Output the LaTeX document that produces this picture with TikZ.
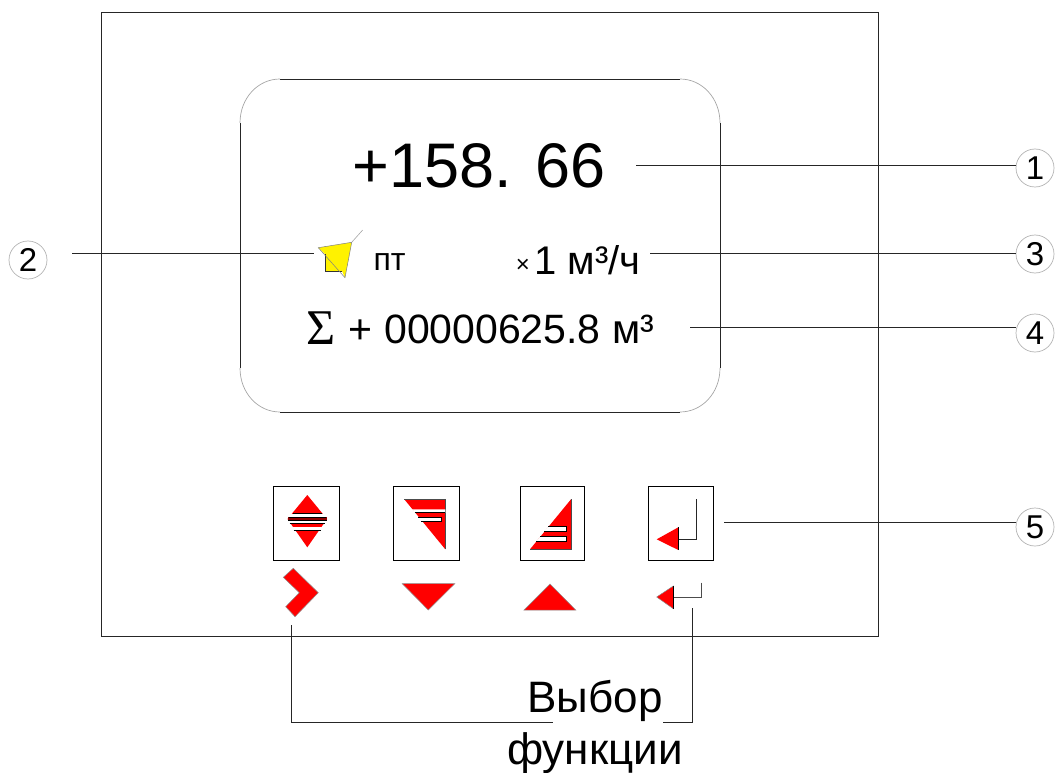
\documentclass[tikz,border=0pt]{standalone}
\usepackage{fontspec}
\setmainfont{Liberation Sans}
\newfontfamily\serifsym{Liberation Serif}
\newcommand{\fs}[1]{\fontsize{#1}{#1}\selectfont}
\tikzset{
  x=1pt,y=-1pt,
  frame/.style={draw=black!85,line width=0.9pt},
  leader/.style={draw=black!85,line width=0.9pt},
  lightarc/.style={draw=black!35,line width=0.7pt},
  keybox/.style={draw=black,line width=0.9pt,fill=white},
  redfill/.style={fill=red,draw=black!45,line width=0.5pt},
  notch/.style={fill=white,draw=black,line width=0.8pt},
  numcirc/.style={circle,draw=black!30,line width=0.7pt,minimum size=38pt,inner sep=0pt,font=\fs{33}},
  txt/.style={inner sep=0pt,anchor=base},
}
\begin{document}
\begin{tikzpicture}
\useasboundingbox (0,0) rectangle (1055,773);
\draw[frame] (101,12) rectangle (878,636);
% display
\draw[frame] (280,79) -- (680,79) (720,123) -- (720,368) (680,412) -- (280,412) (240,368) -- (240,123);
\draw[lightarc] (240,123) .. controls (240,98) and (258,79) .. (280,79);
\draw[lightarc] (680,79) .. controls (702,79) and (720,98) .. (720,123);
\draw[lightarc] (720,368) .. controls (720,393) and (702,412) .. (680,412);
\draw[lightarc] (280,412) .. controls (258,412) and (240,393) .. (240,368);
% texts
\node[txt] (val) at (479,187) {\fs{63}+158. 66};
\node[txt] (pt) at (389.5,270) {\fs{32}пт};
\node[txt] (unit) at (587.5,274) {\fs{40}1 м³/ч};
\node[txt] (times) at (523,272) {\fs{24}×};
\node[txt] (total) at (501.5,343) {\fs{41}+ 00000625.8 м³};
\node[txt] (sigma) at (321,344) {\fs{50}\serifsym Σ};
% numbers
\node[numcirc] (n1) at (1035,168) {1};
\node[numcirc] (n2) at (28,260) {2};
\node[numcirc] (n3) at (1035,254) {3};
\node[numcirc] (n4) at (1035,333) {4};
\node[numcirc] (n5) at (1035,527) {5};
% speaker
\fill[yellow] (318.3,247.7) -- (351.7,242.3) -- (345,277.7) -- (342,271) -- (325,271) -- (325,254) -- cycle;
\draw[black!80,line width=0.8pt] (325,254) -- (325,271) -- (342,271);
\draw[black!50,line width=0.5pt] (318.3,247.7) -- (351.7,242.3) -- (345,277.7) -- cycle;
\draw[black!35,line width=0.6pt] (351.7,242.3) -- (362.7,230);
\coordinate (spk) at (314,253);
% leaders
\coordinate (a1) at (636,165);
\coordinate (a3) at (650,253);
\coordinate (a4) at (690,327);
\coordinate (a2) at (72,253);
\draw[leader] (a1) -- (a1 -| n1.west);
\draw[leader] (a3) -- (a3 -| n3.west);
\draw[leader] (a4) -- (a4 -| n4.west);
\draw[leader] (a2) -- (spk);
% key boxes
\node[keybox,minimum width=66pt,minimum height=74pt,inner sep=0pt] (k1) at (306,523) {};
\node[keybox,minimum width=66pt,minimum height=74pt,inner sep=0pt] (k2) at (426,523) {};
\node[keybox,minimum width=64pt,minimum height=74pt,inner sep=0pt] (k3) at (552,523) {};
\node[keybox,minimum width=65pt,minimum height=74pt,inner sep=0pt] (k4) at (680.5,523) {};
\coordinate (a5) at (724,522);
\draw[leader] (a5) -- (a5 -| n5.west);
% icon 1
\fill[red] (307.3,495) -- (327,519) -- (307.3,547.3) -- (287.5,519) -- cycle;
\fill[white] (288,513.6) rectangle (327,516.9);
\fill[red!55!black] (287.5,516.9) rectangle (327,520.5);
\fill[white] (287.5,520.5) rectangle (327,523.3);
\fill[white] (288,527) rectangle (327,530.6);
\draw[black,line width=0.8pt] (292.5,513.5) -- (322,513.5) (288.5,516.9) -- (326,516.9) (288,520.5) -- (326.5,520.5) (289.5,523.4) -- (325,523.4) (293.5,530.8) -- (321,530.8);
% icon 2
\fill[red] (404.3,499.3) -- (445.3,499.3) -- (445.3,549.3) -- cycle;
\draw[black!70,line width=0.6pt] (404.3,499.3) -- (445.3,499.3) -- (445.3,549.3);
\fill[white] (412,509.3) -- (445.3,509.3) -- (445.3,512.7) -- (415,512.7) -- cycle;
\draw[black,line width=0.8pt] (415,512.7) -- (445.3,512.7);
\draw[black,line width=0.7pt,fill=white] (418,517.7) -- (441,517.7) -- (441,521) -- (420.5,521);
% icon 3
\fill[red] (571,499.3) -- (571,549.3) -- (530,549.3) -- cycle;
\draw[black!70,line width=0.6pt] (571,499.3) -- (571,549.3) -- (530,549.3);
\draw[notch] (548,526.7) -- (566.7,526.7) -- (566.7,531.7) -- (544,531.7);
\draw[notch] (540,536.7) -- (566.7,536.7) -- (566.7,541.7) -- (536,541.7);
% icon 4
\draw[black!85,line width=0.9pt] (696.7,499.3) -- (696.7,539.3) -- (678.3,539.3);
\fill[red] (656.7,539.3) -- (678.3,527.3) -- (678.3,550) -- cycle;
\draw[black,line width=0.9pt] (678.3,527.3) -- (678.3,550);
% lower icons
\filldraw[redfill] (293.3,568.3) -- (318.3,592.7) -- (295,616.7) -- (285.7,606.7) -- (299.3,592.7) -- (283.3,577.3) -- cycle;
\filldraw[redfill] (402.3,583.7) -- (454.7,583.7) -- (428.3,610) -- cycle;
\filldraw[redfill] (550,584) -- (524,610) -- (575.7,610) -- cycle;
\draw[black!70,line width=0.8pt] (701,582.7) -- (701,597.3) -- (673.3,597.3);
\filldraw[redfill] (656.7,597) -- (673.3,586) -- (673.3,608.7) -- cycle;
\draw[black,line width=0.8pt] (673.3,586) -- (673.3,608.7);
% selection label
\node[txt] (sel1) at (595,712) {\fs{44}Выбор};
\node[txt] (sel2) at (595,764) {\fs{44}функции};
\coordinate (b1) at (291,625);
\coordinate (b2) at (692,608);
\coordinate (j1) at (291,722);
\coordinate (j2) at (692,722);
\draw[leader] (b1) -- (j1) -- (553,722);
\draw[leader] (b2) -- (j2) -- (663,722);
\end{tikzpicture}
\end{document}
